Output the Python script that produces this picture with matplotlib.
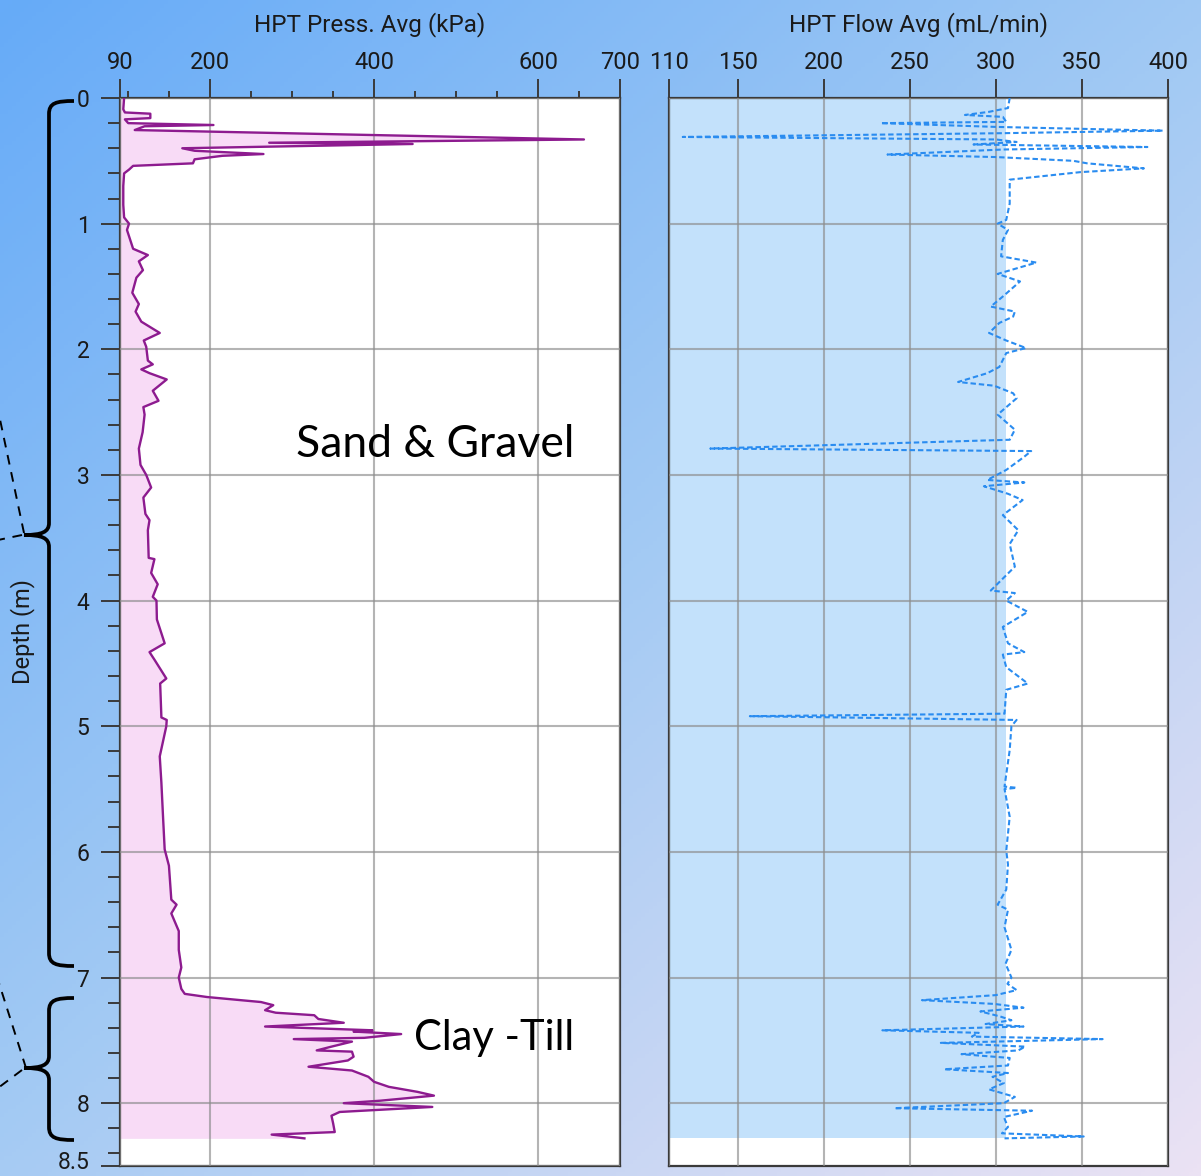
import numpy as np
import matplotlib
matplotlib.use("Agg")
import matplotlib.pyplot as plt
import matplotlib.transforms as mtransforms
from matplotlib.path import Path
from matplotlib.patches import PathPatch
from matplotlib.colors import LinearSegmentedColormap
from matplotlib.ticker import MultipleLocator

# HPT log: pressure and flow against depth
depth_p = [0.00, 0.09, 0.115, 0.125, 0.16, 0.17, 0.20, 0.215, 0.225, 0.255, 0.33,
           0.356, 0.366, 0.40, 0.42, 0.446, 0.46, 0.488, 0.52, 0.54, 0.57, 0.60,
           0.70, 0.85, 0.95, 1.00, 1.05, 1.20, 1.25, 1.30, 1.37, 1.43, 1.55, 1.64,
           1.70, 1.78, 1.87, 1.93, 1.98, 2.09, 2.12, 2.16, 2.19, 2.24, 2.33, 2.41,
           2.46, 2.52, 2.66, 2.79, 2.92, 3.00, 3.10, 3.18, 3.31, 3.36, 3.44, 3.66,
           3.67, 3.78, 3.87, 3.97, 4.00, 4.15, 4.34, 4.41, 4.47, 4.62, 4.66, 4.93,
           4.95, 5.00, 5.24, 5.45, 5.72, 5.98, 6.11, 6.38, 6.42, 6.49, 6.63, 6.78,
           6.92, 7.00, 7.09, 7.13, 7.155, 7.18, 7.195, 7.22, 7.26, 7.28, 7.30, 7.33,
           7.36, 7.39, 7.42, 7.43, 7.45, 7.48, 7.49, 7.51, 7.55, 7.58, 7.59, 7.63,
           7.66, 7.71, 7.74, 7.79, 7.83, 7.87, 7.91, 7.94, 7.98, 8.00, 8.03, 8.07,
           8.10, 8.16, 8.23, 8.25, 8.28]
press = [95, 94, 96, 127, 127, 96, 100, 204, 120, 108, 656,
         272, 447, 166, 181, 265, 215, 181, 179, 106, 101, 95,
         94, 94, 95, 101, 98.5, 106, 124, 113, 118, 110, 105, 113,
         109, 116, 138.5, 119, 122, 124, 130, 116, 126, 147, 130, 137,
         118.5, 120, 117.6, 113, 115, 122, 128, 118.5, 121, 126, 124, 125,
         132, 128, 136, 130, 134.5, 135, 144.5, 126, 132, 146.5, 139, 140.5,
         147, 146.5, 138.5, 140.5, 142.5, 144.5, 149.7, 152.6, 159, 152.6, 161.7, 161.7,
         164.8, 161.7, 164.8, 169, 196, 237, 262, 277, 267, 280, 327, 332,
         363, 267, 398, 375, 433, 388, 302, 373, 348, 330, 373, 375,
         368, 320, 373, 393, 400, 418, 453, 473, 408, 363, 471, 358,
         348, 350, 352, 275, 315]

depth_f = [0.00, 0.08, 0.11, 0.135, 0.15, 0.19, 0.20, 0.23, 0.26, 0.28, 0.31, 0.33,
           0.35, 0.37, 0.39, 0.41, 0.45, 0.47, 0.50, 0.52, 0.56, 0.59, 0.65, 0.73,
           0.84, 0.97, 1.00, 1.05, 1.13, 1.26, 1.31, 1.40, 1.46, 1.58, 1.66, 1.70,
           1.74, 1.79, 1.87, 1.93, 1.99, 2.03, 2.14, 2.19, 2.26, 2.29, 2.35, 2.39,
           2.52, 2.64, 2.72, 2.79, 2.81, 2.86, 2.96, 3.04, 3.06, 3.09, 3.15, 3.20,
           3.32, 3.44, 3.55, 3.73, 3.92, 3.94, 4.00, 4.09, 4.21, 4.34, 4.41, 4.43,
           4.53, 4.66, 4.71, 4.90, 4.92, 4.95, 5.00, 5.19, 5.48, 5.49, 5.50, 5.72,
           5.99, 6.10, 6.30, 6.42, 6.46, 6.60, 6.78, 6.89, 7.00, 7.05, 7.10, 7.14,
           7.18, 7.21, 7.24, 7.27, 7.31, 7.34, 7.37, 7.39, 7.42, 7.44, 7.47, 7.49,
           7.52, 7.55, 7.58, 7.61, 7.64, 7.70, 7.73, 7.76, 7.79, 7.84, 7.89, 7.95,
           8.00, 8.04, 8.06, 8.11, 8.19, 8.24, 8.265, 8.28]
flow = [308, 307, 296, 282, 304, 306, 233, 300, 397, 304, 118, 300,
        312, 287, 388, 304, 237, 300, 345, 353, 386, 349, 308, 308,
        308, 306, 301, 307, 304, 303, 323.5, 301, 314, 304, 297, 311,
        310, 302, 296, 306, 317.5, 306, 302, 295, 278, 299, 310, 312,
        301, 311, 308, 134, 320.5, 316, 306, 295, 316.5, 293, 307, 315.5,
        304, 313, 308, 311, 297, 311, 306, 318.5, 304, 307, 316.5, 304,
        306, 318.5, 306, 305, 157, 312, 309, 308, 305, 312, 305, 308,
        306, 307, 306, 301, 307, 305, 309, 305.6, 309, 306.7, 312, 300,
        257, 299, 316, 291, 302.5, 309, 294, 316, 234, 290, 286, 362,
        268, 317, 313, 280, 308, 307, 270, 307, 298, 304.6, 296, 311,
        304.6, 241, 321, 304.6, 307, 303.5, 351, 305]

flow_base = 306          # right edge of the shaded flow band
bottom_depth = 8.28      # last logged depth

press_ticks = [90, 200, 400, 600, 700]
flow_ticks = [110, 150, 200, 250, 300, 350, 400]
depth_ticks = [0, 1, 2, 3, 4, 5, 6, 7, 8, 8.5]
depth_labels = ["0", "1", "2", "3", "4", "5", "6", "7", "8", "8.5"]

W, H = 1201, 1176
fig = plt.figure(figsize=(W / 100, H / 100), dpi=100)
plt.rcParams["font.family"] = ["Roboto", "DejaVu Sans"]

# gradient backdrop
bg = fig.add_axes([0, 0, 1, 1], zorder=-5)
gx, gy = np.meshgrid(np.linspace(0, 1, 300), np.linspace(0, 1, 300))
grad = (gx * 0.95 + gy * 1.05) / 2
cmap = LinearSegmentedColormap.from_list(
    "bgc", [(0, "#66abf8"), (0.5, "#a3caf3"), (1.0, "#ebe2f3")])
bg.imshow(grad, cmap=cmap, extent=[0, W, H, 0], aspect="auto", vmin=0, vmax=1)
bg.set_xlim(0, W)
bg.set_ylim(H, 0)
bg.axis("off")

spine_c = "#3a3a3a"
grid_c = "#8c8c8c"

ax1 = fig.add_axes([120 / W, 1 - 1166 / H, 500 / W, 1068 / H])
ax2 = fig.add_axes([669 / W, 1 - 1166 / H, 499 / W, 1068 / H])

for ax in (ax1, ax2):
    ax.set_facecolor("white")
    ax.set_ylim(8.5, 0)
    ax.xaxis.tick_top()
    ax.xaxis.set_label_position("top")
    for s in ax.spines.values():
        s.set_color(spine_c)
        s.set_linewidth(1.6)
    ax.tick_params(axis="x", which="major", length=14, width=1.4, color=spine_c,
                   labelsize=17, pad=3, labelcolor="#1a1a1a")
    ax.set_yticks(range(0, 9))
    ax.grid(True, color=grid_c, alpha=0.65, linewidth=1.5)
    ax.set_axisbelow(False)

# pressure panel
ax1.set_xlim(90, 700)
ax1.set_xticks(press_ticks)
ax1.xaxis.set_minor_locator(MultipleLocator(50))
ax1.tick_params(axis="x", which="minor", length=5, width=1.4, color=spine_c)
ax1.set_yticks(depth_ticks)
ax1.set_yticklabels(depth_labels)
ax1.yaxis.set_minor_locator(MultipleLocator(0.2))
ax1.tick_params(axis="y", which="major", length=14, width=1.4, color=spine_c,
                labelsize=16.5, pad=8, labelcolor="#1a1a1a")
ax1.tick_params(axis="y", which="minor", length=8.5, width=1.4, color=spine_c)
ax1.grid(True, which="minor", axis="both", alpha=0)
# keep the bottom depth label inside the figure
last = ax1.get_yticklabels()[-1]
last.set_transform(last.get_transform() +
                   mtransforms.ScaledTranslation(0, 4 / 72, fig.dpi_scale_trans))

ax1.fill_betweenx(depth_p, 90, press, color="#f8dbf6", linewidth=0, zorder=1)
ax1.plot(press, depth_p, color="#8d1b8f", linewidth=1.7, zorder=3)
ax1.set_xlabel("HPT Press. Avg (kPa)", fontsize=17.5, color="#1a1a1a")
ax1.xaxis.set_label_coords(0.5, 1 + (98 - 31) / 1068)
ax1.set_ylabel("Depth (m)", fontsize=17, color="#1a1a1a")
ax1.yaxis.set_label_coords((35 - 120) / 500, 0.5)

ax1.text(474, 2.76, "Sand & Gravel", fontsize=32, family=["Lato", "DejaVu Sans"],
         ha="center", va="center", color="black", zorder=5)
ax1.text(546, 7.48, "Clay -Till", fontsize=30, family=["Lato", "DejaVu Sans"],
         ha="center", va="center", color="black", zorder=5)

# flow panel
ax2.set_xlim(110, 400)
ax2.set_xticks(flow_ticks)
ax2.tick_params(axis="y", which="both", left=False, labelleft=False)
ax2.fill_betweenx([0, bottom_depth], 110, flow_base, color="#c3e1fb",
                  linewidth=0, zorder=1)
ax2.plot(flow, depth_f, color="#2a8cf0", linewidth=1.5,
         linestyle=(0, (2.6, 1.4)), zorder=3)
ax2.set_xlabel("HPT Flow Avg (mL/min)", fontsize=17.5, color="#1a1a1a")
ax2.xaxis.set_label_coords(0.5, 1 + (98 - 31) / 1068)


# curly braces marking the two units, in pixel space of the backdrop
def brace(top, tip, bottom, x=49, hook=74, point=24):
    verts = [(hook, top), (56, top), (x, top + 2), (x, top + 13),
             (x, tip - 12),
             (x, tip - 3), (42, tip), (point, tip),
             (42, tip), (x, tip + 3), (x, tip + 12),
             (x, bottom - 13),
             (x, bottom - 2), (56, bottom), (hook, bottom)]
    codes = [Path.MOVETO, Path.CURVE4, Path.CURVE4, Path.CURVE4,
             Path.LINETO,
             Path.CURVE4, Path.CURVE4, Path.CURVE4,
             Path.CURVE4, Path.CURVE4, Path.CURVE4,
             Path.LINETO,
             Path.CURVE4, Path.CURVE4, Path.CURVE4]
    bg.add_patch(PathPatch(Path(verts, codes), fill=False, lw=2.7,
                           edgecolor="black", capstyle="butt"))


brace(101, 535, 966)
brace(998, 1068, 1140)

for (x0, y0), (x1, y1) in [((24, 533), (-2, 410)), ((22, 535), (-2, 540)),
                           ((26, 1068), (-2, 980)), ((22, 1070), (-2, 1088))]:
    bg.plot([x0, x1], [y0, y1], color="black", lw=1.4, linestyle=(0, (5, 4)))

fig.savefig("out.png", dpi=100)
